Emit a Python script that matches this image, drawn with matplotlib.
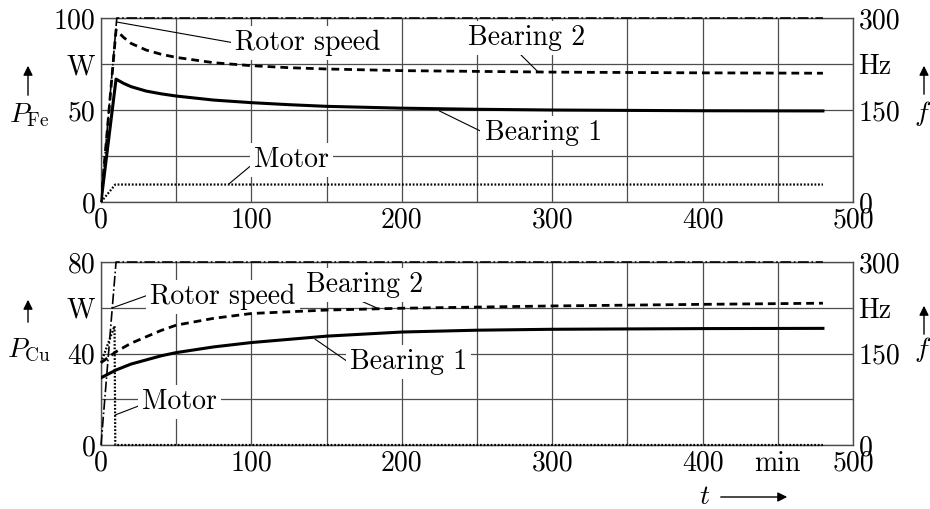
"""
plot.py - Iron and copper losses of the bearings and the motor over time.
"""

import matplotlib
matplotlib.use('Agg')
import matplotlib.pyplot as plt
from matplotlib.patches import FancyArrowPatch

plt.rcParams['font.family'] = ['cmr10', 'DejaVu Serif']
plt.rcParams['mathtext.fontset'] = 'cm'
plt.rcParams['axes.formatter.use_mathtext'] = True
plt.rcParams['font.size'] = 20

# --- P_Fe panel (W) ---
t_fe = [0, 10, 15, 20, 30, 40, 50, 75, 100, 125, 150, 200, 250, 300, 400, 480]
fe_bearing1 = [0, 66.8, 64.5, 62.7, 60.3, 58.8, 57.6, 55.4, 54, 52.9, 52, 51, 50.4, 50, 49.6, 49.5]
fe_bearing2 = [0, 93.5, 89.5, 86.2, 82.6, 80.3, 78.6, 75.7, 74.1, 73, 72.3, 71.4, 71, 70.6, 70.2, 70]
t_fe_motor = [0, 9.5, 480]
fe_motor = [0, 9.5, 9.5]
t_fe_rotor = [0, 10.5, 480]
fe_rotor_hz = [0, 300, 300]

# --- P_Cu panel (W) ---
t_cu = [0, 10, 20, 30, 40, 50, 75, 100, 150, 200, 250, 300, 400, 480]
cu_bearing1 = [29.4, 32.8, 35.4, 37.2, 39, 40.4, 42.9, 44.8, 47.6, 49.4, 50.2, 50.6, 50.9, 51]
cu_bearing2 = [36, 40.8, 44.5, 47.3, 50.1, 52.4, 55.4, 57.5, 59, 59.8, 60.3, 60.8, 61.5, 62]
t_cu_motor = [0, 9, 9.5, 480]
cu_motor = [36, 52, 0, 0]
t_cu_rotor = [0, 10, 480]
cu_rotor_hz = [0, 300, 300]

# tick labels
x_ticks = list(range(0, 501, 50))
x_labels_top = ['0', '', '100', '', '200', '', '300', '', '400', '', '500']
x_labels_bottom = ['0', '', '100', '', '200', '', '300', '', '400', 'min', '500']
fe_yticks = [0, 25, 50, 75, 100]
fe_ylabels = ['0', '', '50', 'W', '100']
cu_yticks = [0, 20, 40, 60, 80]
cu_ylabels = ['0', '', '40', 'W', '80']
hz_ticks = [0, 75, 150, 225, 300]
hz_labels = ['0', '', '150', 'Hz', '300']

GRID = '#4d4d4d'


def style_panel(ax, yticks, ylabels, xlabels):
    """Grid, limits and tick labels shared by both panels."""
    ax.set_xlim(0, 500)
    ax.set_ylim(yticks[0], yticks[-1])
    ax.set_xticks(x_ticks)
    ax.set_xticklabels(xlabels)
    ax.set_yticks(yticks)
    ax.set_yticklabels(ylabels)
    ax.tick_params(length=0, pad=4)
    ax.grid(True, color=GRID, lw=0.9)
    for s in ax.spines.values():
        s.set_color(GRID)
        s.set_linewidth(1.0)
    ax2 = ax.twinx()
    ax2.set_ylim(0, 300)
    ax2.set_yticks(hz_ticks)
    ax2.set_yticklabels(hz_labels)
    ax2.tick_params(length=0, pad=4)
    for s in ax2.spines.values():
        s.set_visible(False)
    return ax2


def label(ax, text, xy, xytext, ha, relpos):
    """Curve label with a white box and a thin leader line."""
    ax.annotate(text, xy=xy, xytext=xytext, textcoords='data', ha=ha, va='center',
                bbox=dict(fc='white', ec='none', pad=3),
                arrowprops=dict(arrowstyle='-', lw=0.8, color='black', relpos=relpos,
                                patchA=None, shrinkA=0, shrinkB=0))


def draw_curves(ax, axr, t, b1, b2, tm, m, tr, r):
    ax.plot(t, b1, color='black', lw=2.2, zorder=4)
    ax.plot(t, b2, color='black', lw=2.0, dashes=(2.8, 1.8), zorder=4)
    ax.plot(tm, m, color='black', lw=1.6, dashes=(0.8, 0.8), zorder=4, clip_on=False)
    axr.plot(tr, r, color='black', lw=1.2, linestyle='-.', clip_on=False)


fig = plt.figure(figsize=(9.3, 5.09), dpi=100)
ax_fe = fig.add_axes([0.1086, 0.6031, 0.8086, 0.3615])
ax_cu = fig.add_axes([0.1086, 0.1257, 0.8086, 0.3595])

axr_fe = style_panel(ax_fe, fe_yticks, fe_ylabels, x_labels_top)
draw_curves(ax_fe, axr_fe, t_fe, fe_bearing1, fe_bearing2, t_fe_motor, fe_motor,
            t_fe_rotor, fe_rotor_hz)
label(ax_fe, 'Rotor speed', (10.6, 97.8), (89, 86.4), 'left', (0, 0.5))
label(ax_fe, 'Bearing 2', (290, 71.2), (283, 89.1), 'center', (0.42, 0))
label(ax_fe, 'Bearing 1', (225, 49.5), (255, 37.5), 'left', (0, 0.5))
label(ax_fe, 'Motor', (85, 9.8), (102, 22.8), 'left', (0, 0.4))

axr_cu = style_panel(ax_cu, cu_yticks, cu_ylabels, x_labels_bottom)
draw_curves(ax_cu, axr_cu, t_cu, cu_bearing1, cu_bearing2, t_cu_motor, cu_motor,
            t_cu_rotor, cu_rotor_hz)
label(ax_cu, 'Rotor speed', (7.3, 59.9), (32.6, 64.7), 'left', (0, 0.6))
label(ax_cu, 'Bearing 2', (183.5, 59.9), (175.5, 70), 'center', (0.41, 0))
label(ax_cu, 'Bearing 1', (142.3, 46.3), (165.6, 36.3), 'left', (0, 0.45))
label(ax_cu, 'Motor', (9.3, 13.1), (27.3, 18.8), 'left', (0, 0.4))


def fig_arrow(p0, p1):
    """Arrow in figure pixels (origin top-left)."""
    W, H = 930, 509
    a = FancyArrowPatch((p0[0] / W, 1 - p0[1] / H), (p1[0] / W, 1 - p1[1] / H),
                        transform=fig.transFigure, arrowstyle='-|>', mutation_scale=14,
                        lw=1.0, color='black')
    fig.add_artist(a)


# quantity labels with arrows
fig.text(29 / 930, 1 - 115 / 509, r'$P_{\mathrm{Fe}}$', ha='center', va='center')
fig_arrow((28, 98), (28, 63))
fig.text(923 / 930, 1 - 113 / 509, r'$f$', ha='center', va='center')
fig_arrow((924, 97), (924, 63))
fig.text(29 / 930, 1 - 350 / 509, r'$P_{\mathrm{Cu}}$', ha='center', va='center')
fig_arrow((28, 325), (28, 297))
fig.text(923 / 930, 1 - 350 / 509, r'$f$', ha='center', va='center')
fig_arrow((924, 337), (924, 303))
fig.text(705 / 930, 1 - 497 / 509, r'$t$', ha='center', va='center')
fig_arrow((718, 497), (790, 497))

fig.savefig('out.png', dpi=100)
plt.close(fig)
